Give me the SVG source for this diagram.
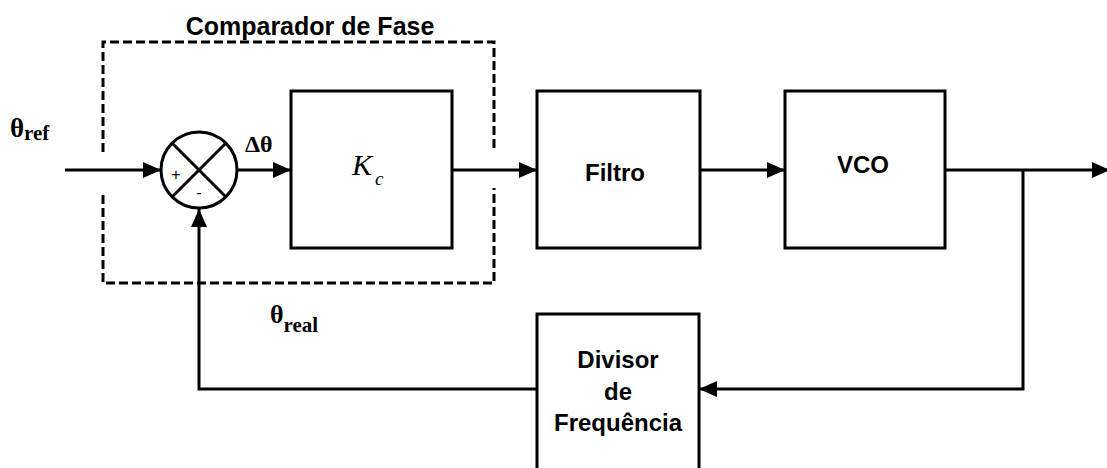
<svg xmlns="http://www.w3.org/2000/svg" width="1107" height="468" viewBox="0 0 1107 468">
<defs>
<style>
.box{fill:#fff;stroke:#000;stroke-width:3}
.ln{fill:none;stroke:#000;stroke-width:3}
.dash{fill:none;stroke:#000;stroke-width:3;stroke-dasharray:9 4}
.lbl{font-family:"Liberation Sans",Arial,sans-serif;font-weight:bold;font-size:24px;text-anchor:middle;fill:#000}
.gr{font-family:"Liberation Serif","Times New Roman",serif;font-weight:bold;fill:#000}
</style>
<marker id="ah" viewBox="0 0 18 16" refX="18" refY="8" markerWidth="18" markerHeight="16" markerUnits="userSpaceOnUse" orient="auto">
<path d="M0,0 L18,8 L0,16 Z" fill="#000"/>
</marker>
</defs>
<rect width="1107" height="468" fill="#fff"/>
<g id="comparador">
<path class="dash" d="M103,152 V42 H494 V152"/>
<path class="dash" d="M103,195 V283 H494 V188"/>
<text class="lbl" x="310" y="35" style="font-size:25px">Comparador de Fase</text>
</g>
<g id="connectors">
<line class="ln" x1="65" y1="170" x2="161" y2="170" marker-end="url(#ah)"/>
<line class="ln" x1="237" y1="170" x2="291" y2="170" marker-end="url(#ah)"/>
<line class="ln" x1="452" y1="170" x2="537" y2="170" marker-end="url(#ah)"/>
<line class="ln" x1="700" y1="170" x2="785" y2="170" marker-end="url(#ah)"/>
<line class="ln" x1="945" y1="170" x2="1110" y2="170" marker-end="url(#ah)"/>
<polyline class="ln" points="1023,170 1023,389 699,389" marker-end="url(#ah)"/>
<polyline class="ln" points="537,389 199,389 199,209" marker-end="url(#ah)"/>
</g>
<g id="somador">
<circle class="box" cx="199" cy="170" r="38"/>
<line class="ln" x1="172" y1="143" x2="226" y2="197"/>
<line class="ln" x1="226" y1="143" x2="172" y2="197"/>
<text x="176" y="180" font-family="Liberation Sans,Arial,sans-serif" font-size="16" text-anchor="middle">+</text>
<text x="199" y="198" font-family="Liberation Sans,Arial,sans-serif" font-size="16" text-anchor="middle">-</text>
</g>
<g id="kc">
<rect class="box" x="291" y="91" width="161" height="157"/>
<text x="352" y="175" font-family="Liberation Serif,'Times New Roman',serif" font-style="italic" font-size="30">K</text>
<text x="375" y="185" font-family="Liberation Serif,'Times New Roman',serif" font-style="italic" font-size="19">c</text>
</g>
<g id="filtro">
<rect class="box" x="537" y="91" width="163" height="157"/>
<text class="lbl" x="615" y="181">Filtro</text>
</g>
<g id="vco">
<rect class="box" x="785" y="91" width="160" height="157"/>
<text class="lbl" x="863" y="173">VCO</text>
</g>
<g id="divisor">
<rect class="box" x="537" y="314" width="162" height="170"/>
<text class="lbl" x="618" y="368">Divisor</text>
<text class="lbl" x="618" y="400">de</text>
<text class="lbl" x="618" y="431">Frequência</text>
</g>
<g id="labels">
<text class="gr" x="10" y="137"><tspan font-size="27">θ</tspan><tspan font-size="21" dy="3">ref</tspan></text>
<text class="gr" x="245" y="152" font-size="24">Δθ</text>
<text class="gr" x="270" y="323"><tspan font-size="26">θ</tspan><tspan font-size="21" dy="9">real</tspan></text>
</g>
</svg>
